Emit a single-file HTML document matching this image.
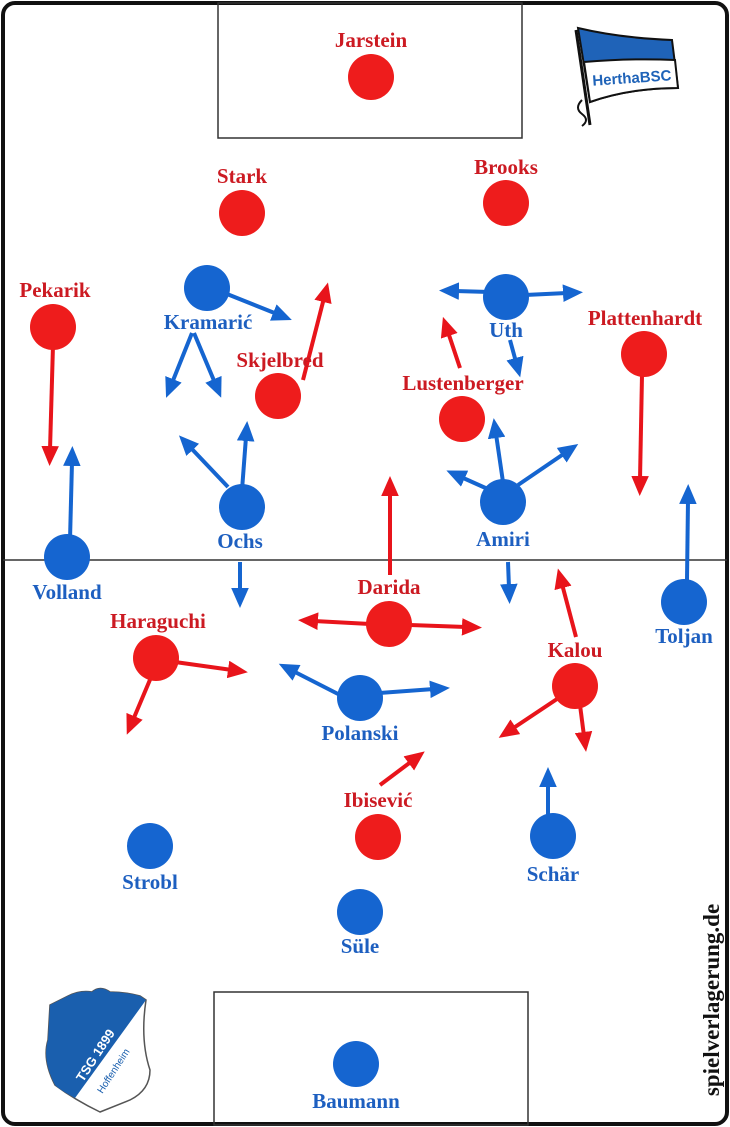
<!DOCTYPE html>
<html><head><meta charset="utf-8"><style>
html,body{margin:0;padding:0;background:#fff;}
svg{display:block;}
.r{fill:#cc1a22;}
.b{fill:#1d5fc0;}
text{font-family:"Liberation Serif",serif;font-weight:bold;font-size:21px;text-anchor:middle;}
</style></head><body>
<svg width="730" height="1127" viewBox="0 0 730 1127" xmlns="http://www.w3.org/2000/svg">
<defs>
<marker id="ar" markerWidth="5" markerHeight="4.4" refX="1" refY="2.2" orient="auto" markerUnits="strokeWidth"><path d="M0,0 L5,2.2 L0,4.4 Z" fill="#e8141b"/></marker>
<marker id="ab" markerWidth="5" markerHeight="4.4" refX="1" refY="2.2" orient="auto" markerUnits="strokeWidth"><path d="M0,0 L5,2.2 L0,4.4 Z" fill="#1565d0"/></marker>
</defs>
<rect x="3" y="3" width="724" height="1121" rx="12" fill="#fff" stroke="#111" stroke-width="4"/>
<rect x="218" y="3" width="304" height="135" fill="none" stroke="#333" stroke-width="1.5"/>
<rect x="214" y="992" width="314" height="133" fill="none" stroke="#333" stroke-width="1.5"/>
<line x1="3" y1="560" x2="727" y2="560" stroke="#333" stroke-width="1.5"/>

<g stroke="#e8141b" stroke-width="4" fill="none" marker-end="url(#ar)">
<line x1="53" y1="345" x2="50" y2="450"/>
<line x1="303" y1="380" x2="324" y2="298"/>
<line x1="460" y1="368" x2="448" y2="332"/>
<line x1="642" y1="375" x2="640" y2="480"/>
<line x1="390" y1="575" x2="390" y2="492"/>
<line x1="370" y1="624" x2="314" y2="621"/>
<line x1="410" y1="625" x2="466" y2="627"/>
<line x1="175" y1="662" x2="232" y2="670"/>
<line x1="152" y1="675" x2="133" y2="720"/>
<line x1="576" y1="637" x2="562" y2="584"/>
<line x1="560" y1="697" x2="512" y2="729"/>
<line x1="580" y1="705" x2="584" y2="736"/>
<line x1="380" y1="785" x2="412" y2="761"/>
</g>
<g stroke="#1565d0" stroke-width="4" fill="none" marker-end="url(#ab)">
<line x1="70" y1="540" x2="72" y2="462"/>
<line x1="222" y1="292" x2="277" y2="314"/>
<line x1="192" y1="333" x2="172" y2="383"/>
<line x1="194" y1="333" x2="215" y2="383"/>
<line x1="228" y1="487" x2="190" y2="447"/>
<line x1="242" y1="490" x2="246" y2="437"/>
<line x1="240" y1="562" x2="240" y2="592"/>
<line x1="490" y1="292" x2="455" y2="291"/>
<line x1="525" y1="295" x2="567" y2="293"/>
<line x1="510" y1="340" x2="516" y2="362"/>
<line x1="490" y1="490" x2="461" y2="477"/>
<line x1="503" y1="482" x2="496" y2="434"/>
<line x1="518" y1="485" x2="565" y2="453"/>
<line x1="508" y1="562" x2="509" y2="588"/>
<line x1="687" y1="580" x2="688" y2="500"/>
<line x1="340" y1="695" x2="293" y2="671"/>
<line x1="380" y1="693" x2="434" y2="689"/>
<line x1="548" y1="818" x2="548" y2="783"/>
</g>

<g fill="#ee1c1c">
<circle cx="371" cy="77" r="23"/>
<circle cx="242" cy="213" r="23"/>
<circle cx="506" cy="203" r="23"/>
<circle cx="53" cy="327" r="23"/>
<circle cx="278" cy="396" r="23"/>
<circle cx="462" cy="419" r="23"/>
<circle cx="644" cy="354" r="23"/>
<circle cx="389" cy="624" r="23"/>
<circle cx="156" cy="658" r="23"/>
<circle cx="575" cy="686" r="23"/>
<circle cx="378" cy="837" r="23"/>
</g>
<g fill="#1565d0">
<circle cx="207" cy="288" r="23"/>
<circle cx="506" cy="297" r="23"/>
<circle cx="242" cy="507" r="23"/>
<circle cx="503" cy="502" r="23"/>
<circle cx="67" cy="557" r="23"/>
<circle cx="684" cy="602" r="23"/>
<circle cx="360" cy="698" r="23"/>
<circle cx="150" cy="846" r="23"/>
<circle cx="553" cy="836" r="23"/>
<circle cx="360" cy="912" r="23"/>
<circle cx="356" cy="1064" r="23"/>
</g>

<g class="r">
<text x="371" y="47">Jarstein</text>
<text x="242" y="183">Stark</text>
<text x="506" y="174">Brooks</text>
<text x="55" y="297">Pekarik</text>
<text x="280" y="367">Skjelbred</text>
<text x="463" y="390">Lustenberger</text>
<text x="645" y="325">Plattenhardt</text>
<text x="389" y="594">Darida</text>
<text x="158" y="628">Haraguchi</text>
<text x="575" y="657">Kalou</text>
<text x="378" y="807">Ibisević</text>
</g>
<g class="b">
<text x="208" y="329">Kramarić</text>
<text x="506" y="337">Uth</text>
<text x="240" y="548">Ochs</text>
<text x="503" y="546">Amiri</text>
<text x="67" y="599">Volland</text>
<text x="684" y="643">Toljan</text>
<text x="360" y="740">Polanski</text>
<text x="150" y="889">Strobl</text>
<text x="553" y="881">Schär</text>
<text x="360" y="953">Süle</text>
<text x="356" y="1108">Baumann</text>
</g>

<text transform="translate(719,1000) rotate(-90)" style="fill:#111;font-size:23px">spielverlagerung.de</text>

<path d="M576,30 L590,125" stroke="#111" stroke-width="3" fill="none"/>
<path d="M582,100 q-8,8 0,14 q8,6 0,12" stroke="#111" stroke-width="2" fill="none"/>
<path d="M578,28 Q620,38 672,40 L678,88 Q630,88 590,102 Z" fill="#1f63b8" stroke="#111" stroke-width="2"/>
<path d="M584,62 Q630,58 675,60 L678,88 Q630,88 590,102 Z" fill="#fff" stroke="#111" stroke-width="2"/>
<text x="632" y="83" transform="rotate(-4 632 80)" style="fill:#1f63b8;font-family:'Liberation Sans',sans-serif;font-size:15px">HerthaBSC</text>

<path d="M50,1005 Q60,1000 68,996 Q80,990 92,992 Q100,985 110,992 Q125,992 140,996 L146,1000 Q140,1040 150,1070 Q150,1090 130,1100 L100,1112 Q75,1100 55,1085 Q42,1060 48,1040 Z" fill="#fff" stroke="#555" stroke-width="1.5"/>
<path d="M50,1005 Q60,1000 68,996 Q80,990 92,992 Q100,985 110,992 Q125,992 140,996 L146,1000 L75,1098 Q60,1090 55,1085 Q42,1060 48,1040 Z" fill="#1a5fae"/>
<text x="95" y="1060" transform="rotate(-57 95 1055)" style="fill:#fff;font-family:'Liberation Sans',sans-serif;font-size:13px">TSG 1899</text>
<text x="112" y="1075" transform="rotate(-57 112 1070)" style="fill:#1a5fae;font-family:'Liberation Sans',sans-serif;font-size:10px;font-weight:normal">Hoffenheim</text>
</svg>
</body></html>
